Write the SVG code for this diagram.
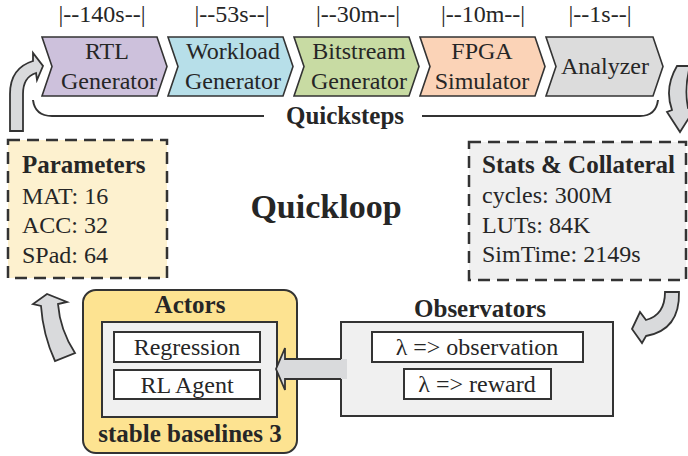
<svg xmlns="http://www.w3.org/2000/svg" width="688" height="456" viewBox="0 0 688 456">
<style>
text{font-family:"Liberation Serif","Times New Roman",serif;fill:#262626;}
.t{font-size:24px;text-anchor:middle;}
.b{font-size:25px;font-weight:bold;}
.r{font-size:24px;}
.chev{stroke:#333;stroke-width:1.6;stroke-linejoin:miter;}
.dash{stroke:#333;stroke-width:2.5;stroke-dasharray:12 7;}
.box{stroke:#333;stroke-width:2;}
.arr{fill:#d9dadc;stroke:#333;stroke-width:1.8;stroke-linejoin:miter;}
</style>
<rect width="688" height="456" fill="#fff"/>

<g id="rtl">
<text class="t" x="102" y="22">|--140s--|</text>
<polygon class="chev" fill="#cdc1dc" points="42,37 157,37 167,66.5 157,96 42,96 52,66.5"/>
<text class="t" x="107" y="59">RTL</text>
<text class="t" x="109" y="89">Generator</text>
</g>
<g id="workload">
<text class="t" x="232" y="22">|--53s--|</text>
<polygon class="chev" fill="#b7dfe9" points="168,37 283,37 293,66.5 283,96 168,96 178,66.5"/>
<text class="t" x="233" y="59">Workload</text>
<text class="t" x="233" y="89">Generator</text>
</g>
<g id="bitstream">
<text class="t" x="358" y="22">|--30m--|</text>
<polygon class="chev" fill="#c8dba3" points="294,37 409,37 419,66.5 409,96 294,96 304,66.5"/>
<text class="t" x="359" y="59">Bitstream</text>
<text class="t" x="359" y="89">Generator</text>
</g>
<g id="fpga">
<text class="t" x="483" y="22">|--10m--|</text>
<polygon class="chev" fill="#fbd3b7" points="420,37 535,37 545,66.5 535,96 420,96 430,66.5"/>
<text class="t" x="482" y="59">FPGA</text>
<text class="t" x="482" y="89">Simulator</text>
</g>
<g id="analyzer">
<text class="t" x="600" y="22">|--1s--|</text>
<polygon class="chev" fill="#dcdcdc" points="546,37 653,37 663,66.5 653,96 546,96 556,66.5"/>
<text class="t" x="605" y="74">Analyzer</text>
</g>

<g id="quicksteps">
<text class="b" x="345" y="124" text-anchor="middle">Quicksteps</text>
</g>

<g id="quickloop">
<text x="326" y="218" text-anchor="middle" style="font-size:34px;font-weight:bold">Quickloop</text>
</g>

<g id="parameters">
<rect class="dash" x="8" y="140" width="159" height="138" fill="#fdf1cf"/>
<text class="b" x="22" y="173">Parameters</text>
<text class="r" x="22" y="204">MAT: 16</text>
<text class="r" x="22" y="233">ACC: 32</text>
<text class="r" x="22" y="263">SPad: 64</text>
</g>

<g id="stats">
<rect class="dash" x="469" y="142" width="217" height="138" fill="#f0f0f0"/>
<text class="b" x="482" y="173">Stats &amp; Collateral</text>
<text class="r" x="482" y="203">cycles: 300M</text>
<text class="r" x="482" y="233">LUTs: 84K</text>
<text class="r" x="482" y="262">SimTime: 2149s</text>
</g>

<g id="actors">
<rect class="box" x="83" y="290" width="214" height="163" rx="13" fill="#fde391"/>
<text class="b" x="190" y="313" text-anchor="middle">Actors</text>
<rect class="box" x="102" y="322" width="175" height="95" fill="#f0f0f0"/>
<rect class="box" x="114" y="332" width="146" height="30" fill="#fff"/>
<text class="t" x="187" y="355">Regression</text>
<rect class="box" x="114" y="370" width="146" height="29" fill="#fff"/>
<text class="t" x="187" y="393">RL Agent</text>
<text class="b" x="190" y="442" text-anchor="middle">stable baselines 3</text>
</g>

<g id="observators">
<text class="b" x="480" y="317" text-anchor="middle">Observators</text>
<rect class="box" x="341" y="322" width="272" height="94" fill="#f0f0f0"/>
<rect class="box" x="372" y="332" width="211" height="30" fill="#fff"/>
<text class="t" x="477" y="355">λ =&gt; observation</text>
<rect class="box" x="404" y="369" width="147" height="30" fill="#fff"/>
<text class="t" x="477" y="392">λ =&gt; reward</text>
</g>

<g id="connectors">
<path d="M33 100 Q35 116 52 116 L264 116 M422 116 L640 116 Q656 116 658 100" fill="none" stroke="#333" stroke-width="2"/>
<path class="arr" d="M10 131 L10 94 Q10 68 33 61 L33 53 L43 66 L37 80 L36 73 Q23 77 23 94 L23 131 Z"/>
<path class="arr" d="M677 66 Q664 88 672 110 L667 112 L680 132 L694 110 L688 108 Q684 88 690 66 Z"/>
<path class="arr" d="M665 292 L679 292 Q680 330 646 336 L642 343 L632 329 L640 312 L646 320 Q665 315 665 292 Z"/>
<path class="arr" d="M55 361 Q43 335 41 306 L33 304 L47 294 L67 302 L58 304 Q60 330 75 353 Z"/>
<polygon points="347,359 285,359 285,348 276,369 285,390 285,379 347,379" fill="#d9dadc"/>
<polyline points="341,359 285,359 285,348 276,369 285,390 285,379 341,379" fill="none" stroke="#333" stroke-width="1.8"/>
</g>
</svg>
